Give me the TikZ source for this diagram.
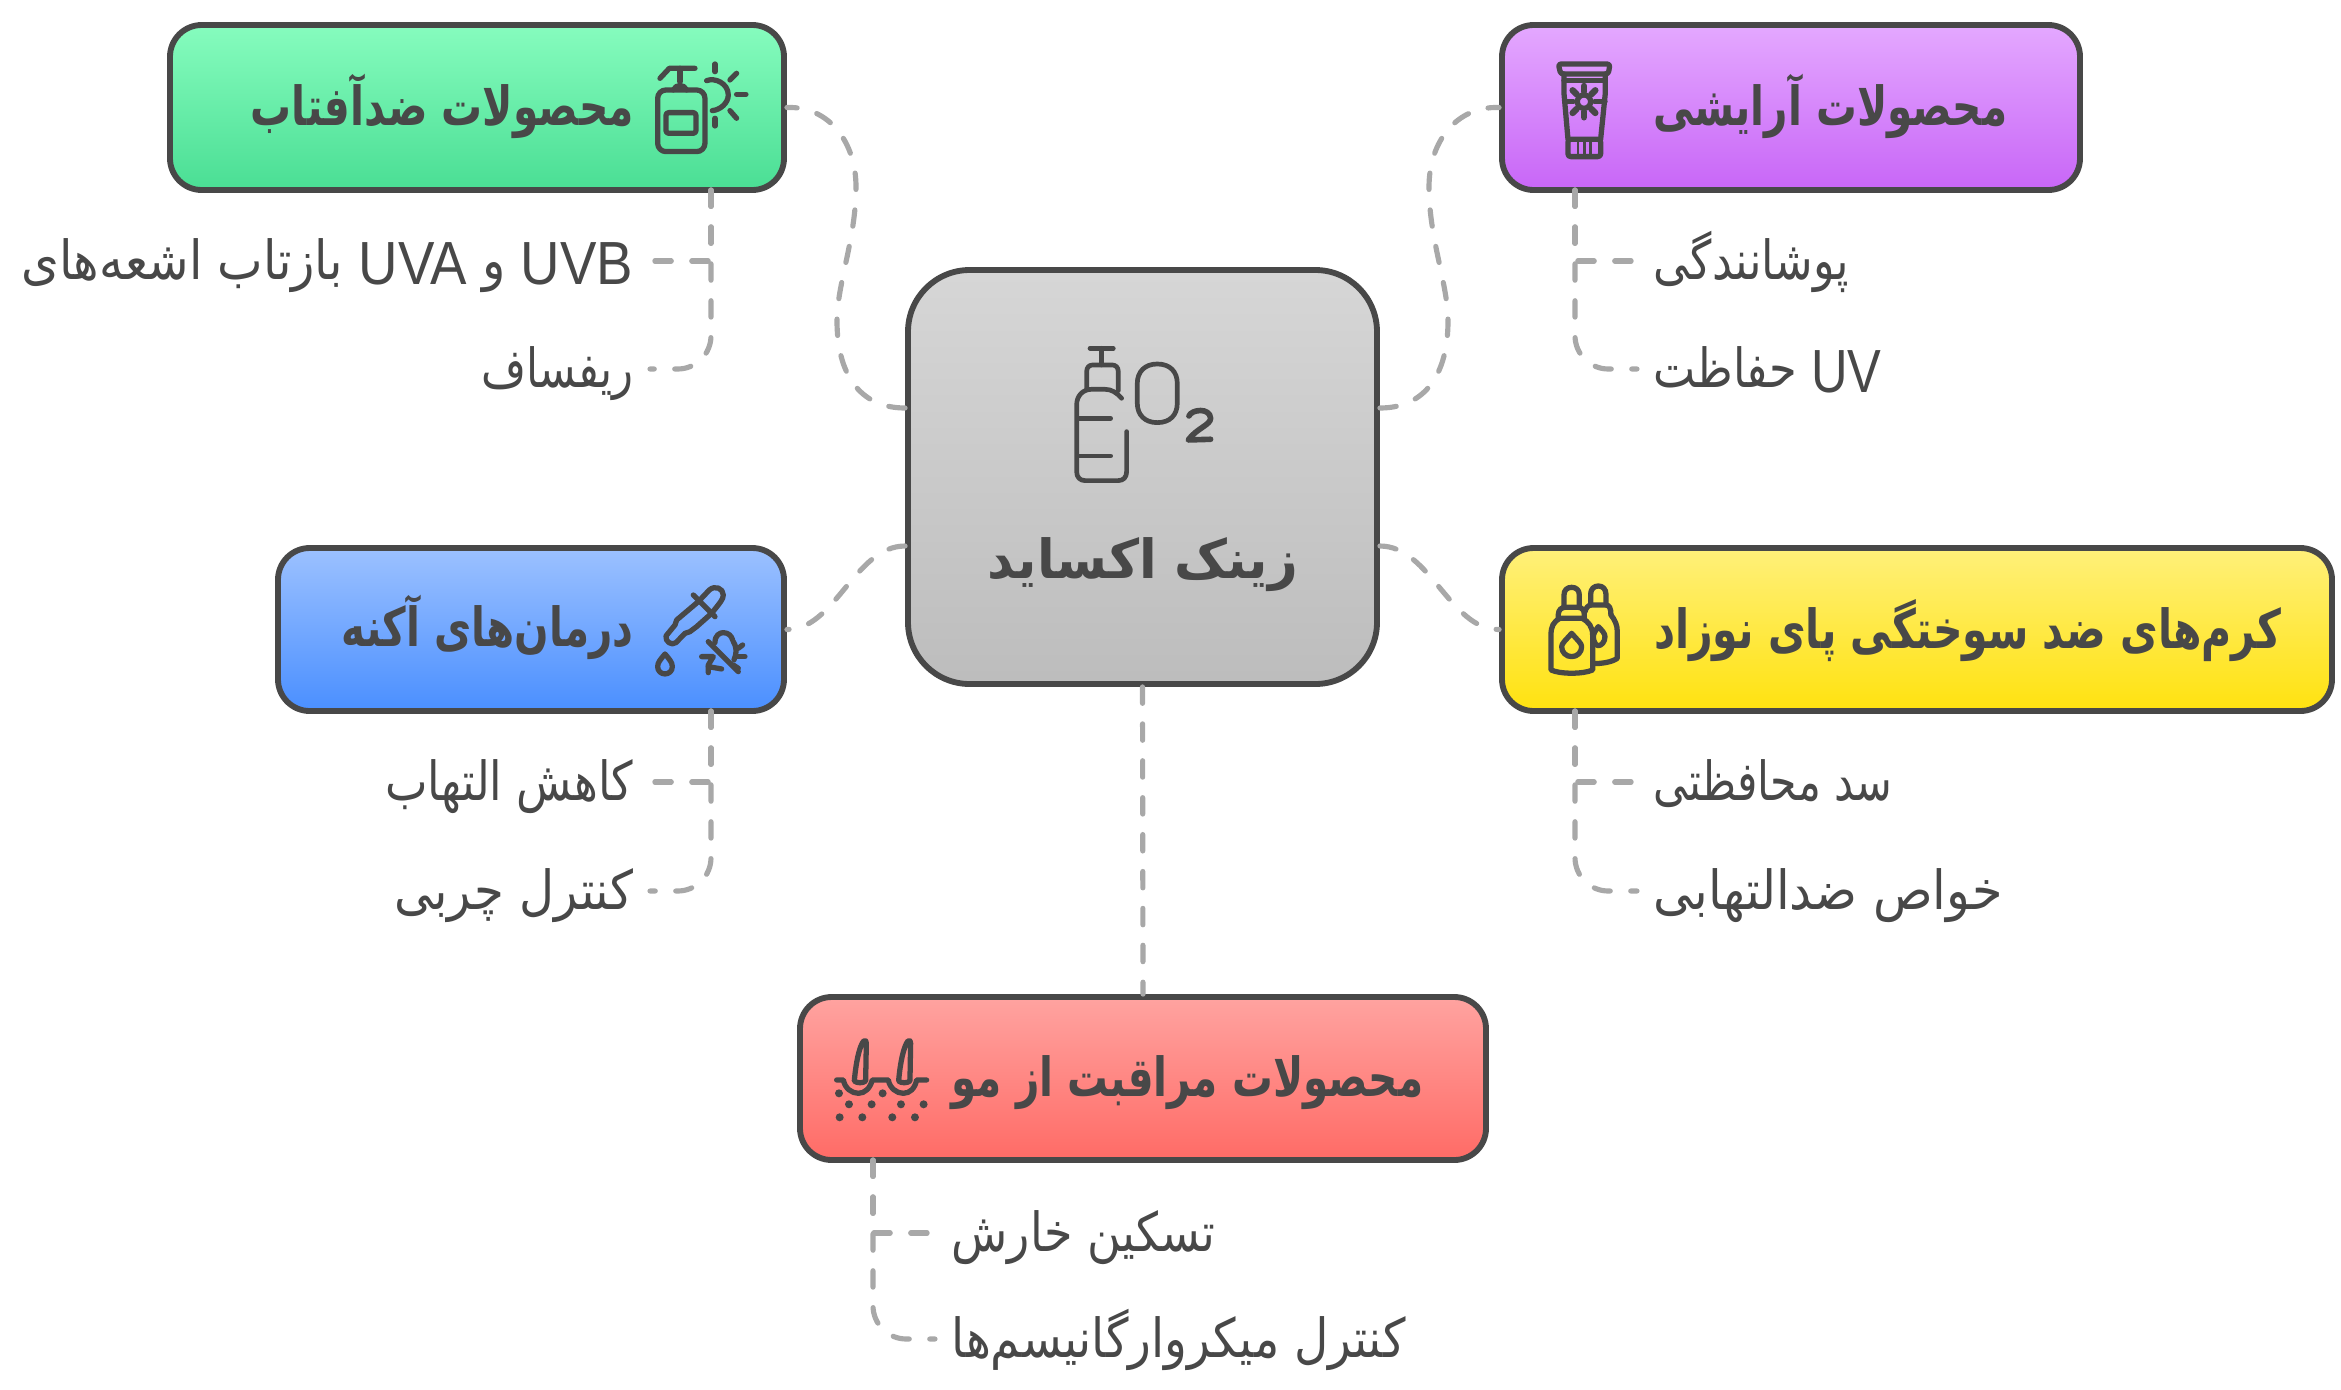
\documentclass[tikz,border=0pt]{standalone}
\usepackage{fontspec}
\usepackage{graphicx}
\setmainfont[Script=Arabic]{DejaVu Sans}
\newfontfamily\latinfont{Liberation Sans}
\TeXXeTstate=1

\definecolor{darkline}{HTML}{484848}
\definecolor{linkgray}{HTML}{A8A8A8}

\newdimen\pxlen
\pxlen=0.03cm
\newcommand{\fitw}[2]{\resizebox{#1\pxlen}{\height}{#2}}
\newcommand{\uvtext}[1]{\raisebox{-4pt}{\fontsize{52}{58}\selectfont\latinfont #1}}

\begin{document}
\begin{tikzpicture}[x=0.03cm, y=-0.03cm,
	catbox/.style={draw=darkline, line width=5pt, rounded corners=0.95cm},
	title/.style={text=darkline, font=\fontsize{46}{52}\selectfont\bfseries, inner sep=0pt, text height=36pt, text depth=4.4pt},
	leaf/.style={text=darkline, font=\fontsize{46}{52}\selectfont, inner sep=0pt, inner xsep=14pt, text height=36pt, text depth=4.4pt},
	link/.style={draw=linkgray, line width=4.4pt, line cap=round, dash pattern=on 14pt off 17.5pt},
	bendlink/.style={link, rounded corners=1cm},
	iconline/.style={color=darkline, line width=4.5pt, line cap=round, line join=round}]
	\useasboundingbox (0,0) rectangle (2341,1389);

	% Kaesten
	\node[catbox, rounded corners=1.85cm, top color=black!16, bottom color=black!26, minimum width=469*\pxlen, minimum height=414*\pxlen] (zno) at (1142.5,477) {};
	\node[catbox, top color={rgb,255:red,134;green,252;blue,190}, bottom color={rgb,255:red,74;green,222;blue,148}, minimum width=614*\pxlen, minimum height=165*\pxlen] (sunbox) at (477,107.5) {};
	\node[catbox, top color={rgb,255:red,228;green,168;blue,255}, bottom color={rgb,255:red,200;green,102;blue,247}, minimum width=578*\pxlen, minimum height=165*\pxlen] (cosbox) at (1791,107.5) {};
	\node[catbox, top color={rgb,255:red,156;green,193;blue,255}, bottom color={rgb,255:red,74;green,143;blue,255}, minimum width=506*\pxlen, minimum height=163*\pxlen] (acnebox) at (531,629.5) {};
	\node[catbox, top color={rgb,255:red,255;green,240;blue,122}, bottom color={rgb,255:red,255;green,226;blue,15}, minimum width=830*\pxlen, minimum height=163*\pxlen] (babybox) at (1917,629.5) {};
	\node[catbox, top color={rgb,255:red,255;green,163;blue,160}, bottom color={rgb,255:red,255;green,107;blue,102}, minimum width=686*\pxlen, minimum height=163*\pxlen] (hairbox) at (1143,1078.5) {};

	% Titel
	\node[title] (znotitle) at (1143,560) {\fitw{310}{\beginR زینک اکساید\endR}};
	\node[title, anchor=east] (suntitle) at (634,107) {\fitw{383}{\beginR محصولات ضدآفتاب\endR}};
	\node[title, anchor=west] (costitle) at (1653,107) {\fitw{354}{\beginR محصولات آرایشی\endR}};
	\node[title, anchor=east] (acnetitle) at (634,628) {\fitw{292}{\beginR درمان‌های آکنه\endR}};
	\node[title, anchor=west] (babytitle) at (1654,630) {\fitw{627}{\beginR کرم‌های ضد سوختگی پای نوزاد\endR}};
	\node[title, anchor=west] (hairtitle) at (951,1078) {\fitw{472}{\beginR محصولات مراقبت از مو\endR}};

	% Stichpunkte
	\node[leaf, anchor=east] (uvitem) at (650,261) {\fitw{612}{\beginR\uvtext{UVB} و \uvtext{UVA} بازتاب اشعه‌های\endR}};
	\node[leaf, anchor=east] (rifsaf) at (650,369) {\fitw{152}{\beginR ریفساف\endR}};
	\node[leaf, anchor=east] (redness) at (650,782) {\fitw{248}{\beginR کاهش التهاب\endR}};
	\node[leaf, anchor=east] (oilitem) at (650,891) {\fitw{239}{\beginR کنترل چربی\endR}};
	\node[leaf, anchor=west] (cover) at (1637,261) {\fitw{195}{\beginR پوشانندگی\endR}};
	\node[leaf, anchor=west] (guard) at (1637,369) {\fitw{228}{\beginR\uvtext{UV} حفاظت\endR}};
	\node[leaf, anchor=west] (barrier) at (1637,782) {\fitw{239}{\beginR سد محافظتی\endR}};
	\node[leaf, anchor=west] (calm) at (1637,891) {\fitw{349}{\beginR خواص ضدالتهابی\endR}};
	\node[leaf, anchor=west] (itch) at (935,1233) {\fitw{264}{\beginR تسکین خارش\endR}};
	\node[leaf, anchor=west] (microbe) at (935,1339) {\fitw{454}{\beginR کنترل میکروارگانیسم‌ها\endR}};

	% Anschlusspunkte
	\coordinate (sunstem) at (711,190);
	\coordinate (cosstem) at (1575,190);
	\coordinate (acnestem) at (711,711);
	\coordinate (babystem) at (1575,711);
	\coordinate (hairstem) at (873,1160);

	% Verbindungen
	\draw[link] ([yshift=2.07cm]zno.west) .. controls (859,408) and (837,373) .. (837,321) .. controls (837,284) and (856,239) .. (856,187) .. controls (856,142) and (829,106) .. (sunbox.east);
	\draw[link] ([yshift=2.07cm]zno.east) .. controls (1426,408) and (1448,373) .. (1448,321) .. controls (1448,284) and (1429,239) .. (1429,187) .. controls (1429,142) and (1456,106) .. (cosbox.west);
	\draw[link] ([yshift=-2.07cm]zno.west) .. controls (855,546) and (835,630) .. (acnebox.east);
	\draw[link] ([yshift=-2.07cm]zno.east) .. controls (1430,546) and (1450,630) .. (babybox.west);
	\draw[link] (zno.south) -- (hairbox.north);

	\draw[link] (sunstem) |- (uvitem.east);
	\draw[bendlink] (sunstem) |- (rifsaf.east);
	\draw[link] (cosstem) |- (cover.west);
	\draw[bendlink] (cosstem) |- (guard.west);
	\draw[link] (acnestem) |- (redness.east);
	\draw[bendlink] (acnestem) |- (oilitem.east);
	\draw[link] (babystem) |- (barrier.west);
	\draw[bendlink] (babystem) |- (calm.west);
	\draw[link] (hairstem) |- (itch.west);
	\draw[bendlink] (hairstem) |- (microbe.west);

	% Flasche und O2
	\begin{scope}[shift={(1050,330)}, x=0.01cm, y=-0.01cm, iconline, line width=4pt]
		\draw (120,55) -- (190,55);
		\draw (155,55) -- (155,105);
		\draw (110,175) -- (110,125) .. controls (110,112) and (118,105) .. (128,105) -- (187,105) .. controls (197,105) and (205,112) .. (205,125) -- (205,182);
		\draw (215,205) .. controls (200,188) and (185,178) .. (165,178) -- (125,178) .. controls (98,178) and (80,198) .. (80,225) -- (80,425) .. controls (80,442) and (90,452) .. (105,452) -- (205,452) .. controls (220,452) and (230,442) .. (230,425) -- (230,305);
		\draw (85,265) -- (182,265);
		\draw (85,378) -- (182,378);
		\draw (262,160) .. controls (262,125) and (285,102) .. (322,102) .. controls (360,102) and (382,125) .. (382,160) -- (382,220) .. controls (382,255) and (360,278) .. (322,278) .. controls (285,278) and (262,255) .. (262,220) -- cycle;
		\draw[line width=4.8pt] (417,258) .. controls (425,238) and (480,232) .. (482,265) .. controls (482,285) and (440,295) .. (415,330) -- (482,328);
	\end{scope}

	% Pumpflasche mit Sonne
	\begin{scope}[shift={(630,40)}, x=0.01cm, y=-0.01cm, iconline]
		\draw[rounded corners=0.25cm] (83,150) rectangle (225,335);
		\draw[rounded corners=0.08cm] (108,218) rectangle (198,280);
		\draw (90,115) -- (118,85) -- (195,85);
		\draw (150,85) -- (150,125);
		\draw (130,150) .. controls (138,132) and (162,132) .. (170,150);
		\draw (230,122) .. controls (255,112) and (295,130) .. (295,165) .. controls (295,190) and (270,210) .. (247,212);
		\draw (255,72) -- (255,95);
		\draw (300,120) -- (320,100);
		\draw (320,163) -- (348,163);
		\draw (300,212) -- (320,235);
		\draw (255,235) -- (255,258);
	\end{scope}

	% Tube mit Sonne
	\begin{scope}[shift={(1530,50)}, x=0.01cm, y=-0.01cm, iconline]
		\draw[rounded corners=0.08cm] (85,42) -- (240,42) -- (235,72) -- (92,72) -- cycle;
		\draw (102,72) -- (102,130) -- (114,268);
		\draw (226,72) -- (226,130) -- (212,268);
		\draw (102,92) -- (226,92);
		\draw[rounded corners=0.08cm] (114,268) rectangle (212,320);
		\draw[line width=2.2pt] (144,275) -- (144,315);
		\draw[line width=2.2pt] (163,275) -- (163,315);
		\draw[line width=2.2pt] (182,275) -- (182,315);
		\draw (162,155) circle [radius=20];
		\draw[line width=5.5pt] (162,125) -- (162,108);
		\draw[line width=5.5pt] (162,185) -- (162,202);
		\draw[line width=5.5pt] (140,133) -- (128,121);
		\draw[line width=5.5pt] (184,133) -- (196,121);
		\draw[line width=5.5pt] (140,177) -- (128,189);
		\draw[line width=5.5pt] (184,177) -- (196,189);
		\draw (130,155) -- (105,155);
		\draw (194,155) -- (225,155);
	\end{scope}

	% Pipette und Keim
	\begin{scope}[shift={(640,570)}, x=0.01cm, y=-0.01cm, iconline]
		\draw (175,95) -- (208,60) .. controls (225,45) and (250,55) .. (250,75) .. controls (250,88) and (240,98) .. (215,130) -- (170,170) -- (150,185) -- (135,190) -- (108,218) .. controls (95,228) and (75,215) .. (78,198) -- (105,165) -- (110,150) -- cycle;
		\draw (160,75) -- (225,140);
		\draw (75,252) .. controls (62,268) and (53,277) .. (53,290) .. controls (53,303) and (63,312) .. (75,312) .. controls (87,312) and (97,303) .. (97,290) .. controls (97,277) and (88,268) .. cycle;
		\draw (205,215) -- (295,305);
		\draw (225,218) .. controls (225,195) and (240,188) .. (250,188) .. controls (265,188) and (275,198) .. (278,210);
		\draw (282,270) .. controls (290,250) and (292,235) .. (280,215);
		\draw (295,235) -- (308,225);
		\draw (290,260) -- (315,260);
		\draw (280,285) -- (295,295);
		\draw (185,260) -- (220,260) -- (205,285) -- (205,308);
		\draw (205,290) -- (245,297);
	\end{scope}

	% Zwei Flaschen
	\begin{scope}[shift={(1540,575)}, x=0.01cm, y=-0.01cm, iconline]
		\draw (60,130) .. controls (40,140) and (33,155) .. (33,180) -- (33,285) .. controls (60,298) and (130,298) .. (158,285) -- (158,180) .. controls (158,155) and (145,140) .. (127,130) -- cycle;
		\draw (55,130) -- (55,118) .. controls (55,105) and (65,97) .. (75,97) -- (115,97) .. controls (125,97) and (133,105) .. (133,118) -- (133,130);
		\draw (72,97) -- (72,60) .. controls (72,45) and (82,37) .. (95,37) .. controls (108,37) and (118,45) .. (118,60) -- (118,97);
		\draw (95,175) .. controls (78,195) and (65,205) .. (65,215) .. controls (65,232) and (78,245) .. (95,245) .. controls (112,245) and (125,232) .. (125,215) .. controls (125,205) and (112,195) .. cycle;
		\draw (152,90) -- (152,58) .. controls (152,42) and (162,33) .. (175,33) .. controls (188,33) and (198,42) .. (198,58) -- (198,90);
		\draw (135,110) .. controls (138,98) and (145,90) .. (155,90) -- (198,90) .. controls (208,90) and (213,100) .. (213,120);
		\draw (213,120) .. controls (225,135) and (232,150) .. (232,170) -- (232,250) .. controls (215,262) and (185,266) .. (160,266);
		\draw (175,155) .. controls (168,165) and (160,175) .. (160,185) .. controls (160,200) and (168,212) .. (175,212) .. controls (185,212) and (195,200) .. (195,185) .. controls (195,175) and (185,165) .. cycle;
	\end{scope}

	% Haarwurzeln
	\begin{scope}[shift={(825,1025)}, x=0.01cm, y=-0.01cm, iconline]
		\draw (88,168) .. controls (92,120) and (102,65) .. (116,48) .. controls (122,45) and (124,48) .. (124,55) -- (122,168) .. controls (115,175) and (95,175) .. cycle;
		\draw (221,168) .. controls (225,120) and (235,65) .. (249,48) .. controls (255,45) and (257,48) .. (257,55) -- (255,168) .. controls (248,175) and (228,175) .. cycle;
		\draw (35,165) -- (55,165) .. controls (60,190) and (80,205) .. (100,205) .. controls (120,205) and (135,190) .. (142,165) -- (190,165) .. controls (195,190) and (215,205) .. (235,205) .. controls (255,205) and (270,190) .. (275,165) -- (305,165);
		\fill (42,205) circle [radius=12] (173,205) circle [radius=12] (72,238) circle [radius=12] (140,238) circle [radius=12] (228,238) circle [radius=12] (296,238) circle [radius=12] (44,277) circle [radius=12] (112,277) circle [radius=12] (202,277) circle [radius=12] (270,277) circle [radius=12];
	\end{scope}
\end{tikzpicture}
\end{document}
